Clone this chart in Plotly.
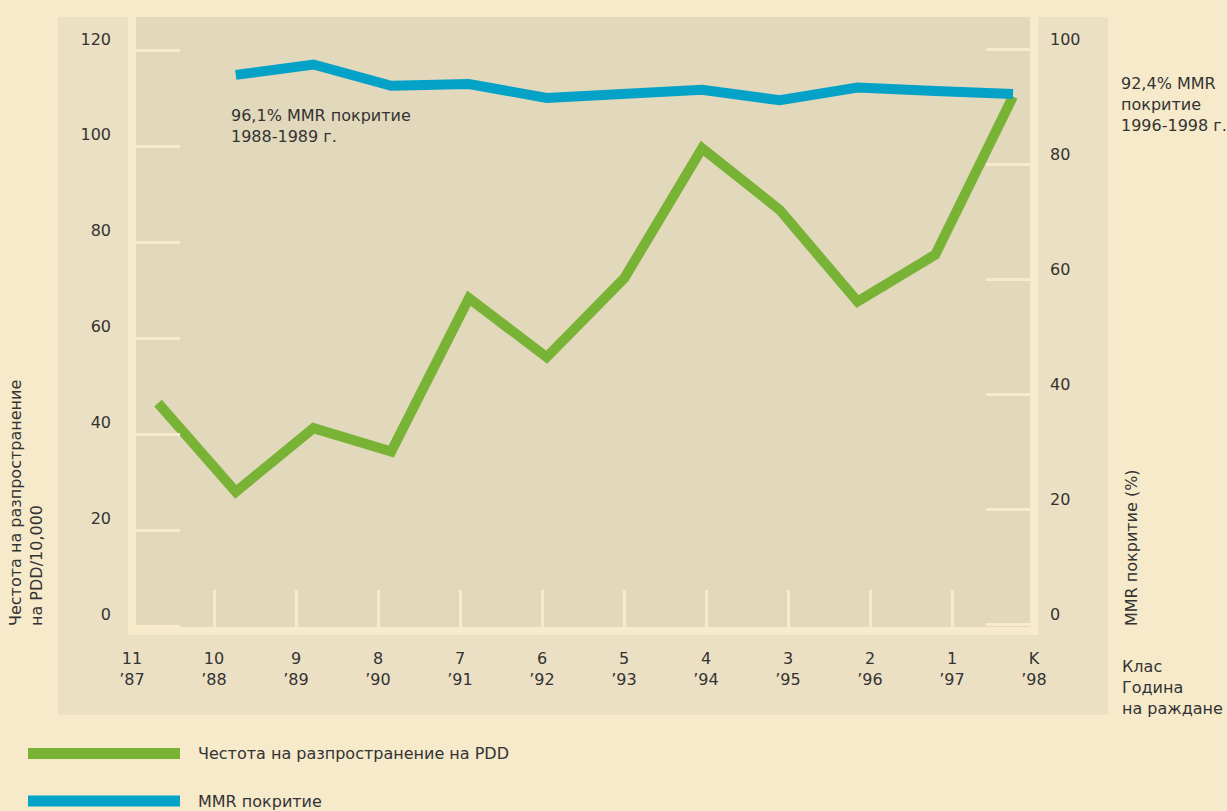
import plotly.graph_objects as go

# ---------------- data ----------------
CLASSES = ["11", "10", "9", "8", "7", "6", "5", "4", "3", "2", "1", "K"]
BIRTH_YEARS = ["’87", "’88", "’89", "’90", "’91", "’92", "’93", "’94", "’95", "’96", "’97", "’98"]
PDD_PREVALENCE = [46.5, 28.0, 41.3, 36.4, 68.4, 56.1, 72.6, 99.7, 86.8, 67.7, 77.5, 110.5]
MMR_COVERAGE = [None, 95.5, 97.3, 93.6, 93.9, 91.5, 92.2, 92.9, 91.1, 93.3, 92.7, 92.2]
LEFT_TICKS = [0, 20, 40, 60, 80, 100, 120]
RIGHT_TICKS = [0, 20, 40, 60, 80, 100]

CATS = [f"{c}<br>{y}" for c, y in zip(CLASSES, BIRTH_YEARS)]

# ---------------- style ----------------
W, H = 1227, 811
L, R, T, B = 132, 1034, 17, 631          # plot area in px
GREEN = "#79b336"
BLUE = "#05a2c8"
PAGE = "#f6eacb"
PANEL = "#ebe0c3"
INNER = "#e2d8bc"
CREAM = "#f7ebcb"
TXT = "#333333"
FONT = "DejaVu Sans"
FS = 16

def px(x):
    return (x - L) / (R - L)

def py(y):
    return (B - y) / (B - T)

fig = go.Figure()

# category axis carrier (no visible mark) so the tick axis gets drawn
fig.add_trace(go.Scatter(
    x=list(range(len(CATS))), y=[None] * len(CATS), xaxis="x", yaxis="y",
    mode="lines", line=dict(width=0), showlegend=False, hoverinfo="skip"))

fig.add_trace(go.Scatter(
    x=CATS, y=PDD_PREVALENCE, xaxis="x2", yaxis="y",
    mode="lines", line=dict(color=GREEN, width=10),
    name="Честота на разпространение на PDD", showlegend=False,
    hoverinfo="skip"))
fig.add_trace(go.Scatter(
    x=CATS, y=MMR_COVERAGE, xaxis="x2", yaxis="y2",
    mode="lines", line=dict(color=BLUE, width=10),
    name="MMR покритие", showlegend=False, connectgaps=False,
    hoverinfo="skip"))

tickstyle = dict(ticks="inside", tickwidth=3, tickcolor=CREAM,
                 showgrid=False, zeroline=False, showline=False,
                 tickfont=dict(family=FONT, size=FS, color=TXT))

fig.update_layout(
    width=W, height=H,
    margin=dict(l=L, r=W - R, t=T, b=H - B, pad=0),
    paper_bgcolor=PAGE, plot_bgcolor="rgba(0,0,0,0)",
    font=dict(family=FONT, size=FS, color=TXT),
    xaxis=dict(type="linear", range=[0, len(CATS) - 1],
               tickvals=list(range(len(CATS))), ticktext=CATS,
               ticklen=41, ticklabelstandoff=16, fixedrange=True, **tickstyle),
    xaxis2=dict(type="category", categoryorder="array", categoryarray=CATS,
                overlaying="x", range=[-0.335, len(CATS) - 1 + 0.27],
                visible=False, fixedrange=True),
    yaxis=dict(range=[-1.04, 127.08], tickvals=LEFT_TICKS, ticklen=48,
               ticklabelshift=-12, ticklabelstandoff=20, fixedrange=True, **tickstyle),
    yaxis2=dict(range=[-1.13, 105.56], tickvals=RIGHT_TICKS, ticklen=48,
                overlaying="y", side="right", ticklabelshift=-10,
                ticklabelstandoff=15, fixedrange=True, **tickstyle),
    showlegend=False,
)

shapes = [
    # outer panel
    dict(type="rect", xref="paper", yref="paper", x0=px(58), x1=px(1108),
         y0=py(715), y1=py(17), fillcolor=PANEL, line_width=0, layer="below"),
    # inner plot
    dict(type="rect", xref="paper", yref="paper", x0=0, x1=1, y0=0, y1=1,
         fillcolor=INNER, line_width=0, layer="below"),
    # frame strips
    dict(type="line", xref="paper", yref="paper", x0=0, x1=0, y0=py(635), y1=1,
         line=dict(color=CREAM, width=8), layer="below"),
    dict(type="line", xref="paper", yref="paper", x0=1, x1=1, y0=py(635), y1=1,
         line=dict(color=CREAM, width=8), layer="below"),
    dict(type="line", xref="paper", yref="paper", x0=px(128), x1=px(1038), y0=0, y1=0,
         line=dict(color=CREAM, width=8), layer="below"),
    # legend swatches
    dict(type="line", xref="paper", yref="paper", x0=px(28), x1=px(180),
         y0=py(753.5), y1=py(753.5), line=dict(color=GREEN, width=11)),
    dict(type="line", xref="paper", yref="paper", x0=px(28), x1=px(180),
         y0=py(801), y1=py(801), line=dict(color=BLUE, width=11)),
]
fig.update_layout(shapes=shapes)

ann = dict(xref="paper", yref="paper", showarrow=False,
           font=dict(family=FONT, size=FS, color=TXT), align="left")
annotations = [
    dict(text="96,1% MMR покритие<br>1988-1989 г.", x=px(229), y=py(104),
         xanchor="left", yanchor="top", **ann),
    dict(text="92,4% MMR<br>покритие<br>1996-1998 г.", x=px(1119), y=py(72),
         xanchor="left", yanchor="top", **ann),
    dict(text="Клас<br>Година<br>на раждане", x=px(1120), y=py(655),
         xanchor="left", yanchor="top", **ann),
    dict(text="Честота на разпространение<br>на PDD/10,000", x=px(4), y=py(628),
         xanchor="left", yanchor="bottom", textangle=-90, **ann),
    dict(text="MMR покритие (%)", x=px(1120), y=py(628),
         xanchor="left", yanchor="bottom", textangle=-90, **ann),
    dict(text="Честота на разпространение на PDD", x=px(196), y=py(753.5),
         xanchor="left", yanchor="middle", **ann),
    dict(text="MMR покритие", x=px(196), y=py(801),
         xanchor="left", yanchor="middle", **ann),
]
fig.update_layout(annotations=annotations)

fig.write_html("out.html")
